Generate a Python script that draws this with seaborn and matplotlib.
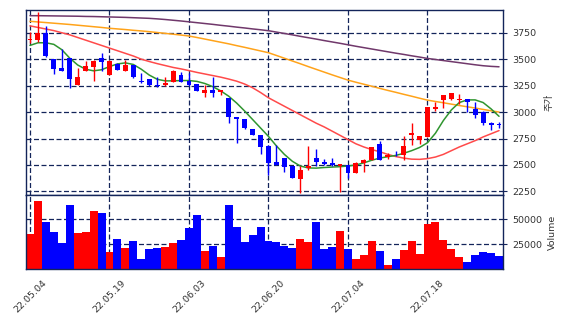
import matplotlib
matplotlib.use('Agg')
import matplotlib.pyplot as plt
import seaborn as sns
import numpy as np
import pandas as pd

sns.set_style('white')
plt.rcParams['font.family'] = ['DejaVu Sans']

# ---------------- data ----------------
opens = [3678, 3684, 3745, 3500, 3415, 3510, 3258, 3388, 3428, 3507,
         3352, 3456, 3390, 3444, 3293, 3312, 3256, 3258, 3286, 3349,
         3293, 3264, 3176, 3207, 3191, 3130, 2952, 2933, 2838, 2781,
         2680, 2525, 2563, 2490, 2365, 2472, 2570, 2525, 2516, 2494,
         2497, 2428, 2522, 2545, 2702, 2572, 2598, 2592, 2784, 2734,
         2765, 3030, 3113, 3119, 3113, 3119, 3027, 3005, 2898, 2886]
highs = [3755, 3950, 3810, 3505, 3600, 3515, 3420, 3485, 3490, 3555,
         3490, 3460, 3492, 3448, 3365, 3315, 3333, 3328, 3395, 3378,
         3366, 3268, 3255, 3328, 3208, 3135, 2955, 2937, 2842, 2785,
         2685, 2687, 2567, 2494, 2492, 2680, 2655, 2560, 2570, 2512,
         2500, 2525, 2553, 2670, 2727, 2610, 2630, 2772, 2901, 2775,
         3052, 3097, 3163, 3180, 3167, 3122, 3091, 3010, 2905, 2907]
lows = [3655, 3665, 3525, 3360, 3388, 3225, 3255, 3385, 3295, 3390,
        3350, 3398, 3388, 3325, 3278, 3250, 3240, 3245, 3280, 3283,
        3250, 3199, 3144, 3138, 3160, 2900, 2703, 2842, 2780, 2608,
        2402, 2495, 2434, 2374, 2235, 2450, 2494, 2500, 2488, 2244,
        2380, 2425, 2434, 2543, 2543, 2560, 2585, 2550, 2687, 2696,
        2762, 3010, 3034, 3117, 3081, 2996, 2948, 2877, 2829, 2847]
closes = [3692, 3744, 3530, 3405, 3392, 3310, 3330, 3432, 3482, 3477,
          3482, 3400, 3444, 3328, 3281, 3252, 3243, 3277, 3387, 3286,
          3252, 3201, 3210, 3183, 3205, 2955, 2930, 2845, 2784, 2670,
          2520, 2497, 2481, 2377, 2450, 2494, 2526, 2507, 2498, 2510,
          2424, 2521, 2551, 2668, 2545, 2598, 2590, 2677, 2806, 2772,
          3050, 3044, 3160, 3176, 3126, 3094, 2971, 2892, 2877, 2877]
volumes = [35400, 68600, 47500, 37400, 26400, 64600, 36400, 37400, 58500, 56500,
           17300, 30400, 21300, 28400, 10300, 20300, 21300, 22300, 26400, 29400,
           41500, 54500, 18300, 23300, 12300, 64600, 42500, 27400, 34400, 42500,
           28400, 27400, 23300, 21300, 30400, 27400, 47500, 20300, 22300, 38400,
           20300, 10300, 14300, 28400, 18300, 4200, 10300, 19300, 28400, 15300,
           45500, 47500, 29400, 20300, 12300, 7200, 14300, 17300, 16300, 13300]
ma5 = [3630, 3655, 3655, 3640, 3590, 3510, 3445, 3405, 3390, 3400,
       3430, 3455, 3465, 3450, 3405, 3350, 3310, 3295, 3295, 3298,
       3298, 3290, 3270, 3240, 3200, 3150, 3085, 3010, 2930, 2850,
       2770, 2680, 2600, 2535, 2490, 2472, 2470, 2476, 2480, 2484,
       2490, 2500, 2520, 2545, 2565, 2578, 2590, 2610, 2635, 2665,
       2710, 2800, 2920, 3020, 3090, 3115, 3115, 3090, 3030, 2960]
ma20 = [3815, 3800, 3785, 3770, 3750, 3730, 3705, 3680, 3655, 3630,
        3605, 3580, 3555, 3530, 3500, 3478, 3458, 3440, 3422, 3408,
        3392, 3375, 3360, 3345, 3330, 3312, 3292, 3265, 3230, 3185,
        3135, 3095, 3055, 3015, 2975, 2935, 2895, 2860, 2820, 2780,
        2740, 2700, 2670, 2645, 2625, 2600, 2580, 2565, 2555, 2553,
        2560, 2575, 2600, 2635, 2670, 2700, 2730, 2765, 2795, 2825]
ma60 = [3858, 3852, 3846, 3840, 3834, 3828, 3821, 3814, 3807, 3800,
        3792, 3786, 3780, 3773, 3767, 3760, 3752, 3744, 3736, 3728,
        3719, 3705, 3690, 3675, 3660, 3645, 3628, 3612, 3595, 3578,
        3561, 3535, 3509, 3483, 3457, 3430, 3404, 3378, 3352, 3327,
        3302, 3282, 3263, 3244, 3224, 3205, 3187, 3168, 3150, 3131,
        3113, 3100, 3088, 3075, 3062, 3050, 3038, 3025, 3012, 3000]
ma120 = [3911, 3911, 3910, 3909, 3908, 3907, 3906, 3904, 3903, 3901,
         3899, 3897, 3895, 3892, 3889, 3886, 3881, 3875, 3868, 3861,
         3853, 3845, 3837, 3829, 3820, 3812, 3803, 3795, 3786, 3778,
         3769, 3756, 3743, 3730, 3716, 3703, 3690, 3676, 3663, 3650,
         3636, 3622, 3609, 3596, 3583, 3570, 3557, 3545, 3532, 3520,
         3507, 3497, 3487, 3477, 3467, 3457, 3447, 3438, 3432, 3428]
tick_pos = [0, 10, 20, 30, 40, 50]
tick_labels = ['22.05.04', '22.05.19', '22.06.03', '22.06.20', '22.07.04', '22.07.18']
price_ticks = [2250, 2500, 2750, 3000, 3250, 3500, 3750]
vol_ticks = [25000, 50000]

# ---------------- styling ----------------
NAVY = '#13245a'
UP = '#ff0000'
DOWN = '#0000ff'
TXT = '#333333'
FS = 6.8

n = len(closes)
idx = np.arange(n)
o = np.array(opens); c = np.array(closes)
h = np.array(highs); l = np.array(lows)
dirs = np.where(c >= o, 'up', 'down')
cols = np.where(c >= o, UP, DOWN)

fig = plt.figure(figsize=(5.68, 3.26), dpi=100)
ax1 = fig.add_axes([26/568, 1 - 194.8/326, 477/568, 184.5/326])
ax2 = fig.add_axes([26/568, 1 - 269.3/326, 477/568, 74.5/326], sharex=ax1)

# moving averages
df_ma = pd.DataFrame({'i': idx, 'ma5': ma5, 'ma20': ma20, 'ma60': ma60, 'ma120': ma120})
for col, colr in [('ma120', '#70386b'), ('ma60', '#ffa31a'), ('ma20', '#ff4a4a'), ('ma5', '#2f952f')]:
    sns.lineplot(data=df_ma, x='i', y=col, ax=ax1, color=colr, lw=1.1, zorder=2)

# candles
ax1.vlines(idx, l, h, colors=cols, lw=1.0, zorder=3)
body_h = np.maximum(np.abs(c - o), 6)
ax1.bar(idx, body_h, bottom=np.minimum(o, c), width=0.62, color=cols, lw=0, zorder=4)

# volume
df_v = pd.DataFrame({'i': idx, 'vol': volumes, 'dir': dirs})
sns.barplot(data=df_v, x='i', y='vol', hue='dir', palette={'up': UP, 'down': DOWN},
            native_scale=True, width=1.0, dodge=False, saturation=1, errorbar=None,
            legend=False, linewidth=0, ax=ax2)

for ax in (ax1, ax2):
    ax.set_xlim(-0.5, n - 0.5)
    ax.yaxis.tick_right()
    ax.yaxis.set_label_position('right')
    ax.grid(True, ls=(0, (4, 2)), color=NAVY, lw=0.9)
    ax.set_axisbelow(True)
    for s in ax.spines.values():
        s.set_color(NAVY)
        s.set_linewidth(1.0)
        s.set_visible(True)
    ax.tick_params(axis='both', colors=NAVY, labelcolor=TXT, labelsize=FS,
                   length=3, width=0.8, direction='out')

ax1.set_ylim(2218, 3962)
ax1.set_yticks(price_ticks)
ax1.set_xticks(tick_pos)
ax1.tick_params(axis='x', bottom=False, labelbottom=False)
ax1.set_xlabel('')
ax1.set_ylabel('주가', family=['Noto Sans CJK KR', 'DejaVu Sans'], fontsize=FS, color=TXT, labelpad=6)

ax2.set_ylim(0, 74500)
ax2.set_yticks(vol_ticks)
ax2.set_xticks(tick_pos)
ax2.set_xticklabels(tick_labels, rotation=45, fontsize=FS, color=TXT)
ax2.set_xlabel('')
ax2.set_ylabel('Volume', fontsize=FS, color=TXT, labelpad=4)

fig.savefig('out.png', dpi=100)
